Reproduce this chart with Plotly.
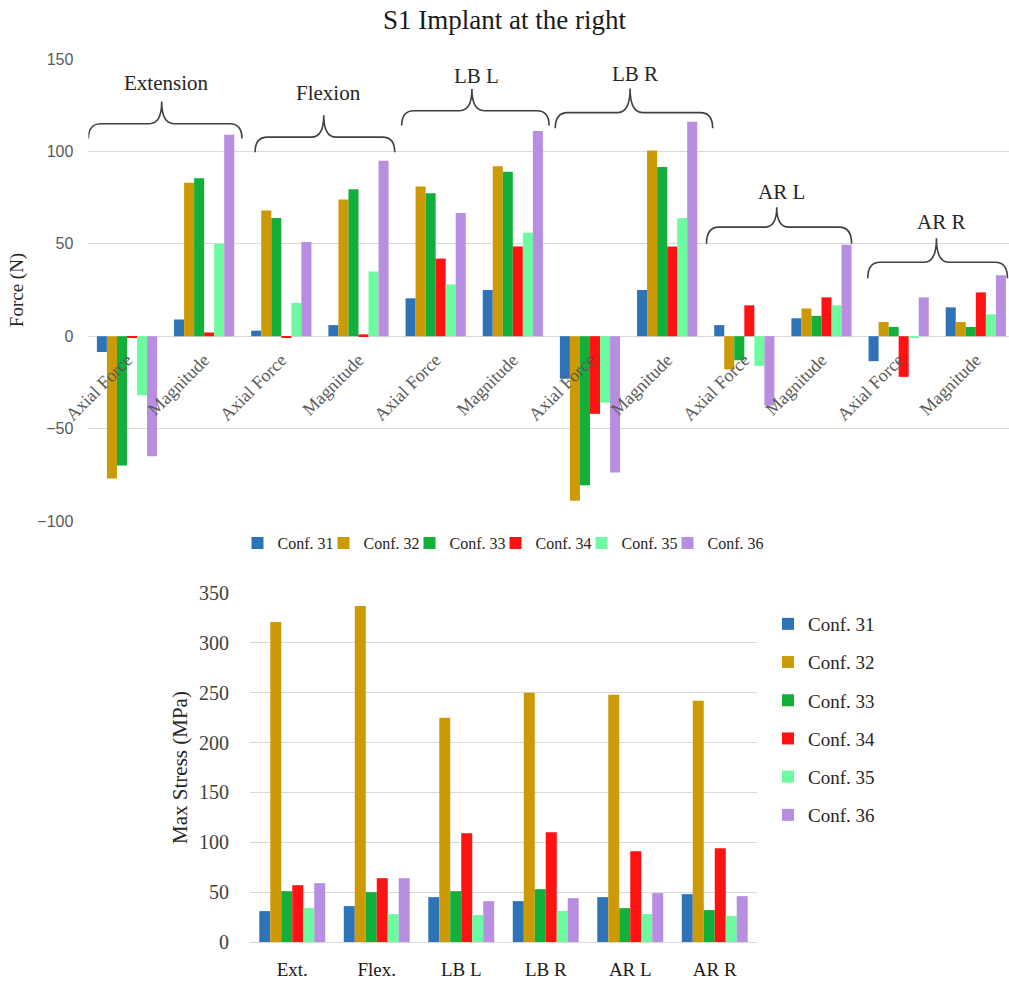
import plotly.graph_objects as go

# ---------------- data ----------------
configs = ["Conf. 31", "Conf. 32", "Conf. 33", "Conf. 34", "Conf. 35", "Conf. 36"]
colors = ["#2e72b8", "#cc9a06", "#12b03a", "#ff1212", "#6dfaa0", "#b78ee0"]

top_labels = ["Axial Force", "Magnitude", "Axial Force", "Magnitude",
              "Axial Force", "Magnitude", "Axial Force", "Magnitude",
              "Axial Force", "Magnitude", "Axial Force", "Magnitude"]

force_31 = [-8.5, 9, 3, 6, 20.5, 25, -23, 25, 6, 9.7, -13.5, 15.6]
force_32 = [-77, 83, 68, 74, 81, 92, -89, 100.5, -18, 15, 7.7, 7.7]
force_33 = [-70, 85.5, 64, 79.5, 77.4, 89, -80.6, 91.5, -13, 11, 5, 5]
force_34 = [-1, 2, -0.5, 1, 42, 48.5, -42, 48.5, 16.7, 21, -22, 23.7]
force_35 = [-32, 50, 18, 35, 28, 56, -36, 64, -16, 16.7, -1, 11.8]
force_36 = [-65, 109, 51, 95, 66.6, 111, -73.7, 116, -37.6, 49.5, 21, 33]
force_series = [force_31, force_32, force_33, force_34, force_35, force_36]

# brace groups over the force chart (category-index / force units)
group_names = ["Extension", "Flexion", "LB L", "LB R", "AR L", "AR R"]
brace_x0 = [-0.5, 1.66, 3.56, 5.55, 7.51, 9.60]
brace_x1 = [1.49, 3.47, 5.47, 7.59, 9.39, 11.41]
brace_xm = [0.45, 2.55, 4.47, 6.52, 8.42, 10.49]
brace_end = [107, 99.6, 114, 112.5, 50, 31.4]
brace_line = [115, 107.7, 122, 121, 59, 40]
brace_tip = [127, 119.6, 133.7, 134, 69.8, 53]
label_y = [137, 131.5, 141, 142, 78, 61.7]

stress_cats = ["Ext.", "Flex.", "LB L", "LB R", "AR L", "AR R"]
stress_31 = [31, 36, 45, 41, 45, 48]
stress_32 = [321, 337, 225, 250, 248, 242]
stress_33 = [51, 50, 51, 53, 34, 32]
stress_34 = [57, 64, 109, 110, 91, 94]
stress_35 = [34, 28, 27, 31, 28, 26]
stress_36 = [59, 64, 41, 44, 49, 46]
stress_series = [stress_31, stress_32, stress_33, stress_34, stress_35, stress_36]

SERIF = "Liberation Serif, Times New Roman, serif"
SANS = "Liberation Sans, Arial, sans-serif"

fig = go.Figure()

xpos = list(range(len(top_labels)))
for i, (name, col, vals) in enumerate(zip(configs, colors, force_series)):
    fig.add_trace(go.Bar(x=xpos, y=vals, name=name, marker_color=col,
                         marker_line_width=0, xaxis="x", yaxis="y",
                         legend="legend",
                         legendwidth=(62 if i == len(configs) - 1 else None)))

for i, (name, col, vals) in enumerate(zip(configs, colors, stress_series)):
    fig.add_trace(go.Bar(x=stress_cats, y=vals, name=name, marker_color=col,
                         marker_line_width=0, xaxis="x2", yaxis="y2",
                         legend="legend2", legendgroup="s%d" % i))

# braces
shapes = []
for x0, x1, xm, ye, yl, yt in zip(brace_x0, brace_x1, brace_xm, brace_end, brace_line, brace_tip):
    r = 0.16
    path = (f"M {x0},{ye} Q {x0},{yl} {x0 + r},{yl} L {xm - r},{yl} "
            f"Q {xm},{yl} {xm},{yt} Q {xm},{yl} {xm + r},{yl} "
            f"L {x1 - r},{yl} Q {x1},{yl} {x1},{ye}")
    shapes.append(dict(type="path", path=path, xref="x", yref="y",
                       line=dict(color="#404040", width=1.6)))

annotations = []
for name, xm, ly in zip(group_names, brace_xm, label_y):
    annotations.append(dict(text=name, x=xm + 0.06, y=ly, xref="x", yref="y",
                            showarrow=False, yanchor="middle",
                            font=dict(family=SERIF, size=21, color="#262626")))

fig.update_layout(
    width=1009, height=983,
    margin=dict(l=0, r=0, t=0, b=0, autoexpand=False),
    paper_bgcolor="white", plot_bgcolor="white",
    barmode="group", bargap=0.22, bargroupgap=0,
    title=dict(text="S1 Implant at the right", x=0.5, xanchor="center",
               y=1 - 20 / 983, yanchor="middle",
               font=dict(family=SERIF, size=27, color="#1a1a1a")),
    shapes=shapes, annotations=annotations,
    xaxis=dict(domain=[88.4 / 1009, 1.0], range=[-0.5, 11.43],
               tickmode="array", tickvals=xpos, ticktext=top_labels,
               tickangle=-45, showgrid=False, zeroline=False, showline=False,
               anchor="free", position=1 - 336 / 983, automargin=False,
               ticklabelstandoff=9,
               tickfont=dict(family=SERIF, size=18, color="#595959")),
    yaxis=dict(domain=[1 - 521 / 983, 1 - 59 / 983], range=[-100, 150],
               tickvals=[-100, -50, 0, 50, 100, 150], automargin=False,
               showgrid=True, gridcolor="#d9d9d9", gridwidth=1.3,
               zeroline=True, zerolinecolor="#d9d9d9", zerolinewidth=1.3,
               showline=False, ticklabelstandoff=14,
               tickfont=dict(family=SANS, size=16, color="#595959"),
               title=dict(text="Force (N)", standoff=8,
                          font=dict(family=SERIF, size=19, color="#262626"))),
    xaxis2=dict(domain=[250 / 1009, 757 / 1009], anchor="y2", automargin=False,
                showgrid=False, zeroline=False, showline=False,
                ticklabelstandoff=14,
                tickfont=dict(family=SERIF, size=19, color="#1a1a1a")),
    yaxis2=dict(domain=[1 - 942 / 983, 1 - 593 / 983], range=[0, 350],
                anchor="x2", dtick=50, automargin=False,
                showgrid=True, gridcolor="#d9d9d9", gridwidth=1.3,
                zeroline=True, zerolinecolor="#d9d9d9", zerolinewidth=1.3,
                showline=False, ticklabelstandoff=20,
                tickfont=dict(family=SERIF, size=20, color="#404040"),
                title=dict(text="Max Stress (MPa)", standoff=5,
                           font=dict(family=SERIF, size=21, color="#262626"))),
    legend=dict(orientation="h", x=506 / 1009, xanchor="center",
                y=1 - 543 / 983, yanchor="middle",
                entrywidth=41, entrywidthmode="pixels",
                font=dict(family=SERIF, size=16, color="#262626"),
                bgcolor="rgba(0,0,0,0)"),
    legend2=dict(orientation="v", x=768 / 1009, xanchor="left",
                 y=1 - 605 / 983, yanchor="top", tracegroupgap=10.5,
                 font=dict(family=SERIF, size=19, color="#262626"),
                 bgcolor="rgba(0,0,0,0)"),
)

fig.write_html("out.html", config={"displayModeBar": False},
               post_script="document.body.style.margin='0';document.body.style.overflow='hidden';")
